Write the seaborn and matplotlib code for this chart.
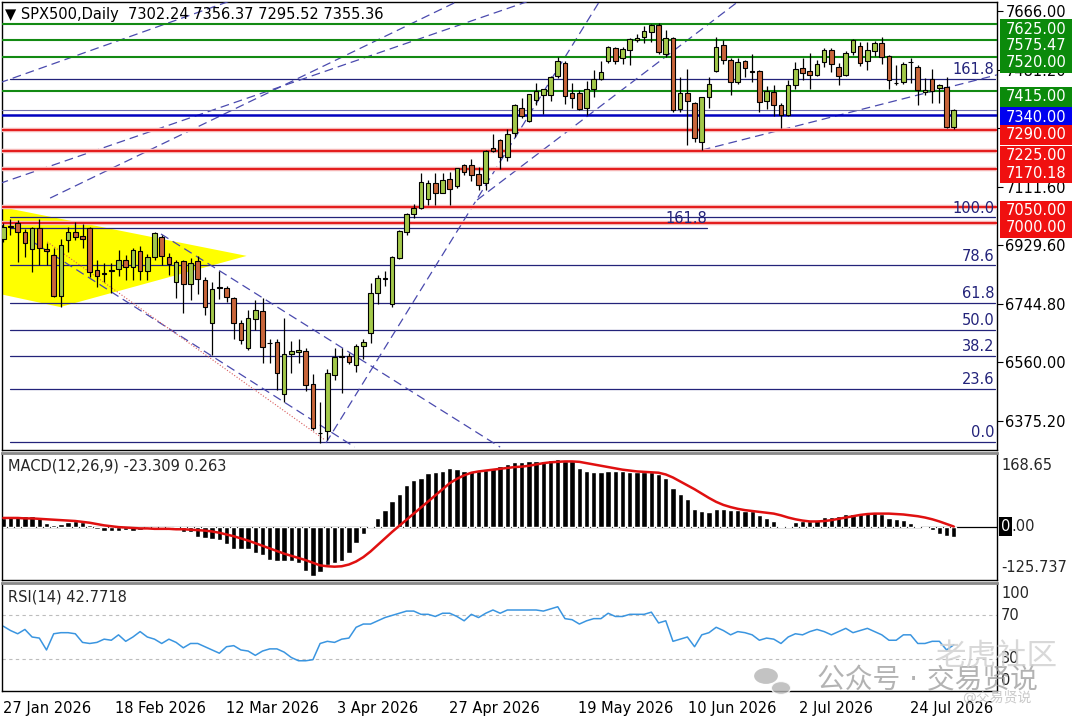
import numpy as np
import pandas as pd
import matplotlib
matplotlib.use('Agg')
import matplotlib.pyplot as plt
import matplotlib.transforms as mtransforms
from matplotlib.patches import Polygon, Rectangle, Circle
import seaborn as sns

sns.set_theme(style='white')
plt.rcParams['font.family'] = ['DejaVu Sans', 'Noto Sans CJK SC']
plt.rcParams['axes.unicode_minus'] = False

# ---------------- data ----------------
opens = [6947, 6985, 7000, 6971, 6916, 6982, 6916, 6898, 6769, 6945,
         6971, 6958, 6982, 6851, 6840, 6848, 6853, 6882, 6859, 6912,
         6848, 6892, 6956, 6890, 6814, 6879, 6806, 6879, 6819, 6683,
         6797, 6793, 6761, 6683, 6606, 6696, 6723, 6620, 6623, 6459,
         6585, 6591, 6596, 6492, 6338, 6345, 6520, 6576, 6580, 6551,
         6611, 6651, 6777, 6822, 6743, 6889, 6971, 7027, 7045, 7073,
         7123, 7094, 7136, 7115, 7181, 7181, 7153, 7126, 7236, 7260,
         7207, 7281, 7362, 7321, 7386, 7401, 7401, 7461, 7503, 7407,
         7407, 7360, 7420, 7452, 7509, 7548, 7517, 7543, 7575, 7585,
         7600, 7622, 7532, 7580, 7359, 7407, 7375, 7254, 7394, 7477,
         7558, 7512, 7442, 7509, 7475, 7477, 7384, 7412, 7370, 7338,
         7433, 7486, 7477, 7464, 7506, 7543, 7490, 7464, 7536, 7557,
         7509, 7541, 7566, 7524, 7439, 7442, 7506, 7490, 7410, 7451,
         7423, 7427, 7302.24]
highs = [6998, 7010, 7008, 6980, 6987, 7010, 6935, 6919, 6947, 6987,
         7002, 6997, 6987, 6882, 6872, 6872, 6914, 6898, 6919, 6925,
         6901, 6970, 6962, 6904, 6882, 6882, 6887, 6894, 6829, 6814,
         6848, 6801, 6766, 6693, 6724, 6756, 6761, 6633, 6633, 6699,
         6628, 6633, 6604, 6522, 6436, 6538, 6604, 6604, 6588, 6617,
         6633, 6811, 6834, 6847, 6894, 6976, 7029, 7058, 7155, 7134,
         7155, 7155, 7158, 7171, 7185, 7200, 7175, 7228, 7278, 7262,
         7294, 7372, 7391, 7406, 7440, 7422, 7462, 7522, 7509, 7438,
         7417, 7447, 7480, 7508, 7556, 7553, 7553, 7582, 7594, 7620,
         7625, 7629, 7607, 7585, 7459, 7485, 7380, 7396, 7459, 7584,
         7574, 7519, 7517, 7512, 7531, 7480, 7431, 7433, 7376, 7449,
         7506, 7518, 7535, 7512, 7549, 7549, 7501, 7540, 7578, 7568,
         7568, 7572, 7585, 7527, 7496, 7506, 7518, 7496, 7454, 7485,
         7436, 7459, 7356.37]
lows = [6940, 6960, 6877, 6892, 6845, 6866, 6866, 6766, 6735, 6908,
        6945, 6919, 6829, 6798, 6814, 6779, 6832, 6820, 6820, 6819,
        6819, 6882, 6866, 6835, 6761, 6714, 6755, 6774, 6709, 6583,
        6758, 6750, 6633, 6619, 6599, 6662, 6558, 6558, 6473, 6436,
        6525, 6558, 6470, 6347, 6305, 6315, 6505, 6462, 6554, 6529,
        6570, 6620, 6745, 6800, 6733, 6885, 6960, 7013, 7042, 7055,
        7055, 7092, 7055, 7108, 7149, 7130, 7102, 7102, 7223, 7170,
        7194, 7268, 7328, 7318, 7370, 7341, 7383, 7454, 7373, 7360,
        7353, 7339, 7395, 7450, 7502, 7500, 7500, 7496, 7567, 7565,
        7569, 7531, 7522, 7349, 7349, 7244, 7254, 7228, 7362, 7473,
        7500, 7402, 7437, 7458, 7444, 7349, 7359, 7337, 7297, 7335,
        7420, 7450, 7420, 7461, 7490, 7475, 7433, 7461, 7526, 7493,
        7480, 7525, 7500, 7420, 7433, 7437, 7439, 7370, 7401, 7375,
        7375, 7297, 7295.52]
closes = [6987, 6990, 6970, 6935, 6982, 6919, 6910, 6769, 6929, 6971,
          6953, 6947, 6845, 6832, 6839, 6851, 6882, 6861, 6914, 6848,
          6890, 6968, 6895, 6868, 6876, 6806, 6873, 6822, 6735, 6790,
          6795, 6766, 6683, 6630, 6699, 6725, 6609, 6620, 6525, 6585,
          6597, 6599, 6488, 6352, 6336, 6525, 6576, 6581, 6562, 6611,
          6623, 6779, 6824, 6824, 6892, 6973, 7027, 7045, 7128, 7125,
          7092, 7134, 7105, 7171, 7160, 7150, 7118, 7225, 7225, 7207,
          7278, 7370, 7334, 7404, 7415, 7419, 7459, 7509, 7398, 7393,
          7356, 7419, 7452, 7475, 7554, 7509, 7545, 7577, 7580, 7604,
          7622, 7538, 7580, 7354, 7409, 7384, 7265, 7394, 7436, 7554,
          7512, 7442, 7506, 7486, 7474, 7381, 7415, 7370, 7338, 7433,
          7482, 7472, 7464, 7499, 7543, 7499, 7461, 7533, 7575, 7503,
          7543, 7566, 7522, 7449, 7438, 7499, 7505, 7417, 7417, 7415,
          7433, 7302, 7355.36]

macd_main = [20, 24, 25, 24, 25, 20, 8, 4, 6, 10, 12, 10, 4,
             -6, -10, -10, -10, -8, -10, -8, -6, -4, -5, -8, -8, -12, -12,
             -24, -26, -28, -30, -40, -52, -52, -52, -60, -65, -76, -78,
             -78, -78, -84, -102, -113, -105, -88, -84, -78, -60, -38, -16,
             1, 20, 38, 58, 76, 96, 108, 113, 124, 125, 129, 134, 132, 129,
             129, 129, 131, 134, 140, 144, 148,
             149,
             150, 150, 152, 153, 155, 150, 150, 134, 129, 126, 126, 128, 128,
             128, 126, 126, 126, 126, 120, 113,
             89, 76, 64, 41, 36, 33, 40, 41, 38, 38, 37, 36, 26, 20, 12, 2, 2,
             10, 12, 12, 16, 22, 22, 24, 28, 28, 30, 33, 32, 30, 20, 18, 16, 8,
             2, -4, -8, -18, -22, -23.309]
macd_signal = [20, 20, 20, 19, 19, 18, 17, 16, 15, 14, 13,
               11, 9, 6, 3, 1, -1, -2, -3, -4, -4,
               -5, -5, -5, -6, -6, -7, -8, -9, -11, -14,
               -18, -22, -27, -32, -38, -44, -50, -56, -62, -67, -72, -77, -83,
               -89, -91, -92, -91, -87, -80, -70, -57, -42, -27, -12, 2, 16,
               30, 44, 58, 72, 86, 100, 110, 118, 124, 127, 129, 131, 133, 135, 137,
               138, 140, 143, 146, 148, 149, 150, 150, 149, 146,
               143, 140, 137, 134, 131, 129, 127, 126, 125, 124,
               120, 113, 104, 95, 86, 76, 66, 57, 50, 45,
               41, 38, 36, 34, 32, 30, 26, 21, 17, 14,
               12, 12, 13, 15, 18, 21, 24, 27, 29, 30,
               30, 30, 29, 28, 26, 24, 21, 17, 12, 6,
               0.263]
rsi_vals = [60, 56, 53, 57, 50, 49, 38, 53, 54, 54,
            53, 45, 44, 45, 48, 47, 52, 46, 50, 55,
            50, 48, 44, 48, 45, 40, 44, 44, 41, 38,
            35, 41, 42, 38, 37, 33, 37, 39, 39, 36,
            31, 28, 28, 29, 44, 46, 45, 48, 49, 59,
            62, 62, 65, 68, 70, 72, 74, 74, 71, 71,
            69, 72, 72, 69, 65, 71, 68, 72, 75, 72,
            75, 75, 75,
            75, 75, 74, 76, 78, 67, 66, 62, 65, 67,
            67, 72, 69, 69, 71, 71, 71, 73, 63, 65,
            46, 48, 50, 41, 52, 54, 59, 56, 52, 55,
            54, 52, 47, 49, 48, 44, 50, 53, 52, 55,
            57, 55, 52, 55, 58, 54, 56, 58, 55, 52,
            47, 47, 52, 52, 44, 44, 46, 46, 38, 42.7718]

date_labels = ['27 Jan 2026', '18 Feb 2026', '12 Mar 2026', '3 Apr 2026', '27 Apr 2026',
               '19 May 2026', '10 Jun 2026', '2 Jul 2026', '24 Jul 2026']
date_ticks = [0, 15.5, 30.9, 46.3, 61.9, 79.8, 95.1, 110.5, 125.9]

price_ticks = [7666.00, 7481.20, 7296.40, 7111.60, 6929.60, 6744.80, 6560.00, 6375.20]
green_levels = [7625.00, 7575.47, 7520.00, 7415.00]
red_levels = [7290.00, 7225.00, 7170.18, 7050.00, 7000.00]
blue_level = 7340.00
bid_price = 7355.36

# right-hand price tags (value, where the tag sits, colour)
tag_values = [7625.00, 7575.47, 7520.00, 7415.00, 7340.00, 7290.00, 7225.00, 7170.18, 7050.00, 7000.00]
tag_pos = [7608, 7559, 7503, 7396, 7331, 7276, 7210, 7155, 7037, 6984]
tag_cols = ['#0B8A0B'] * 4 + ['#0000F0'] + ['#F01010'] * 5

# fibonacci retracement (low -> high) and the short extension on the left
fib_low, fib_high = 6310, 7016
fib_levels = [0.0, 23.6, 38.2, 50.0, 61.8, 78.6, 100.0, 161.8]
fib2_price, fib2_end = 6984, 97.7

# trend lines drawn on the chart: (bar, price) pairs
trend_lines = [((-0.5, 7440), (31.8, 7700)),
               ((-0.5, 7123), (72.7, 7695)),
               ((6.5, 7077), (63.4, 7700)),
               ((21.9, 6964), (69.0, 6293)),
               ((3.7, 6945), (48.8, 6293)),
               ((44.8, 6306), (82.9, 7700)),
               ((65.8, 7071), (102.3, 7700)),
               ((97.0, 7228), (138.0, 7465))]
red_dotted = ((6.1, 6939), (44.7, 6315))
triangle = [(-0.5, 7050), (-0.5, 6775), (7.9, 6734), (33.8, 6895)]

# ---------------- figure ----------------
W, H = 1080, 720
fig = plt.figure(figsize=(10.8, 7.2), dpi=100)
fig.patch.set_facecolor('white')

def px_axes(top, bottom):
    return fig.add_axes([2 / W, 1 - bottom / H, 995 / W, (bottom - top) / H])

ax = px_axes(2, 450)
ax_m = px_axes(453.3, 580)
ax_r = px_axes(583, 691)

FS = 10.5
NAVY = '#23237A'
x = np.arange(len(closes))
df = pd.DataFrame({'o': opens, 'h': highs, 'l': lows, 'c': closes}, index=x)

for a in (ax, ax_m, ax_r):
    a.set_facecolor('white')
    a.set_xlim(-0.18, 138.0)
    for s in a.spines.values():
        s.set_color('black')
        s.set_linewidth(1.0)
    a.tick_params(axis='both', which='both', direction='out', colors='black', labelsize=FS)
    a.grid(False)

# ---- main price panel ----
ax.set_ylim(6283.9, 7694.4)
ax.add_patch(Polygon(triangle, closed=True, facecolor='#FFFF00', edgecolor='none', zorder=1))

for lv in fib_levels:
    p = fib_low + (fib_high - fib_low) * lv / 100
    ax.plot([0.93, 137.7], [p, p], color=NAVY, lw=0.9, zorder=2)
    ax.text(137.6, p + 6, f'{lv:.1f}', color=NAVY, fontsize=FS, ha='right', va='bottom', zorder=6)
ax.plot([0.93, fib2_end], [fib2_price, fib2_price], color=NAVY, lw=0.9, zorder=2)
ax.text(fib2_end, fib2_price + 6, '161.8', color=NAVY, fontsize=FS, ha='right', va='bottom', zorder=6)

for (x0, y0), (x1, y1) in trend_lines:
    ax.plot([x0, x1], [y0, y1], color='#4A4AAE', lw=0.9, dashes=(7, 4), zorder=3)
ax.plot([red_dotted[0][0], red_dotted[1][0]], [red_dotted[0][1], red_dotted[1][1]],
        color='#D85A5A', lw=0.8, ls=':', zorder=3)

for lv in green_levels:
    ax.axhline(lv, color='#138A13', lw=1.5, zorder=3)
for lv in red_levels:
    ax.axhline(lv, color='#F5B5B5', lw=3.2, zorder=3)
    ax.axhline(lv, color='#E41A1A', lw=1.4, zorder=3)
ax.axhline(blue_level, color='#0000C0', lw=1.8, zorder=3)
ax.axhline(bid_price, color='#7070A8', lw=0.8, zorder=3)

up = df['c'] >= df['o']
body_lo = np.minimum(df['o'], df['c'])
body_h = np.maximum((df['c'] - df['o']).abs(), 2.0)
ax.vlines(x, df['l'], df['h'], color='black', lw=0.9, zorder=4)
ax.bar(x, body_h, bottom=body_lo, width=0.64,
       color=np.where(up, '#A3C94A', '#C8653A'), edgecolor='black', linewidth=0.8, zorder=5)

ax.yaxis.tick_right()
ax.set_yticks(price_ticks)
ax.set_yticklabels([f'{t:.2f}' for t in price_ticks])
ax.tick_params(axis='y', length=4, width=0.8, pad=2)
ax.set_xticks([])

blend = mtransforms.blended_transform_factory(ax.transAxes, ax.transData)
box_h = 20 * (7694.4 - 6283.9) / 448
for val, pos, col in zip(tag_values, tag_pos, tag_cols):
    ax.add_patch(Rectangle((1.003, pos - box_h / 2), 0.0724, box_h, transform=blend,
                           facecolor=col, edgecolor='none', clip_on=False, zorder=7))
    ax.text(1.039, pos, f'{val:.2f}', transform=blend, color='white', fontsize=FS,
            ha='center', va='center', clip_on=False, zorder=8)

fig.text(5 / W, 1 - 14 / H, '\u25BC SPX500,Daily  7302.24 7356.37 7295.52 7355.36',
         fontsize=FS, color='black', va='center', ha='left')

# ---- MACD panel ----
ax_m.set_ylim(-122.6, 168.65)
ax_m.axhline(0, color='black', lw=0.9, zorder=1)
ax_m.bar(x, macd_main, width=0.74, color='black', zorder=2)
sns.lineplot(x=x, y=macd_signal, ax=ax_m, color='#E01010', lw=1.8, legend=False, zorder=3)
ax_m.set_xticks([])
ax_m.set_yticks([])
ax_m.spines['top'].set_color('#8A8A8A')
ax_m.spines['top'].set_linewidth(2)
ax_m.text(0.006, 0.9, 'MACD(12,26,9) -23.309 0.263', transform=ax_m.transAxes,
          fontsize=FS, va='center', ha='left')
bm = mtransforms.blended_transform_factory(ax_m.transAxes, ax_m.transData)
ax_m.text(1.004, 0.9, '168.65', transform=ax_m.transAxes, fontsize=FS, va='center', ha='left', clip_on=False)
ax_m.text(1.004, 0.095, '-125.737', transform=ax_m.transAxes, fontsize=FS, va='center', ha='left', clip_on=False)
ax_m.text(1.004, 0, '0', transform=bm, fontsize=FS, color='white', va='center', ha='left', clip_on=False,
          bbox=dict(boxstyle='square,pad=0.12', facecolor='black', edgecolor='none'))
ax_m.text(1.0145, 0, '.00', transform=bm, fontsize=FS, va='center', ha='left', clip_on=False)

# ---- RSI panel ----
ax_r.set_ylim(0, 100)
for lv in (70, 30):
    ax_r.axhline(lv, color='#BDBDBD', lw=0.8, ls=(0, (3, 3)), zorder=1)
sns.lineplot(x=x, y=rsi_vals, ax=ax_r, color='#3A95E0', lw=1.1, legend=False, zorder=2)
ax_r.set_yticks([])
ax_r.spines['top'].set_color('#8A8A8A')
ax_r.spines['top'].set_linewidth(2)
ax_r.text(0.006, 0.87, 'RSI(14) 42.7718', transform=ax_r.transAxes, fontsize=FS, va='center', ha='left')
br = mtransforms.blended_transform_factory(ax_r.transAxes, ax_r.transData)
ax_r.text(1.004, 0.905, '100', transform=ax_r.transAxes, fontsize=FS, va='center', ha='left', clip_on=False)
ax_r.text(1.004, 70, '70', transform=br, fontsize=FS, va='center', ha='left', clip_on=False)
ax_r.text(1.004, 30, '30', transform=br, fontsize=FS, va='center', ha='left', clip_on=False)
ax_r.text(1.004, 0.1, '0', transform=ax_r.transAxes, fontsize=FS, va='center', ha='left', clip_on=False)

ax_r.set_xticks(date_ticks)
ax_r.set_xticklabels(date_labels, ha='left')
ax_r.tick_params(axis='x', length=5, width=0.8, pad=2)
ax_r.set_xlabel('')
ax_r.set_ylabel('')
ax_m.set_xlabel('')

# ---- watermark ----
fig.patches.append(Circle((766 / W, 1 - 676 / H), 0.011, transform=fig.transFigure,
                          facecolor='#B4B4B4', edgecolor='none', alpha=0.8))
fig.patches.append(Circle((781 / W, 1 - 688 / H), 0.009, transform=fig.transFigure,
                          facecolor='#B4B4B4', edgecolor='white', lw=1, alpha=0.8))
fig.text(927 / W, 1 - 680 / H, '公众号 · 交易贤说', fontsize=20, color='#9A9A9A', alpha=0.75,
         ha='center', va='center')
fig.text(997 / W, 1 - 657 / H, '老虎社区', fontsize=22, color='#CFCFCF', alpha=0.8,
         ha='center', va='center')
fig.text(997 / W, 1 - 698 / H, '@交易贤说', fontsize=10, color='#C4C4C4', alpha=0.9,
         ha='center', va='center')

fig.savefig('out.png', dpi=100)
